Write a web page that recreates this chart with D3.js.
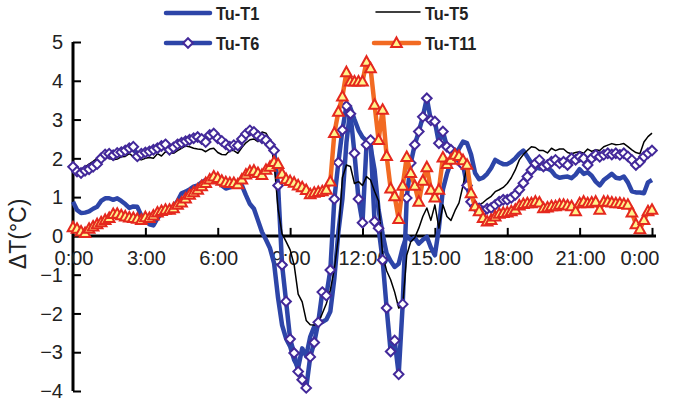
<!DOCTYPE html>
<html><head><meta charset="utf-8">
<script src="https://cdn.jsdelivr.net/npm/d3@7"></script>
<style>body{margin:0;background:#fff}svg{display:block}</style>
</head><body>
<svg id="c" width="674" height="404"></svg>
<script>
const stepMinutes = 10;
const tickHours = [0,3,6,9,12,15,18,21,24];
const tickLabels = ["0:00","3:00","6:00","9:00","12:00","15:00","18:00","21:00","0:00"];
const yTicks = [-4,-3,-2,-1,0,1,2,3,4,5];
const yLabel = "ΔT(°C)";
const seriesNames = ["Tu-T1","Tu-T5","Tu-T6","Tu-T11"];

const tuT1 = [0.88,0.67,0.59,0.6,0.63,0.7,0.75,0.9,0.97,0.97,
0.93,0.97,0.9,0.82,0.72,0.76,0.75,0.52,0.38,0.3,
0.27,0.45,0.58,0.65,0.68,0.75,0.9,1.1,1.14,1.2,
1.27,1.3,1.38,1.44,1.42,1.45,1.4,1.3,1.22,1.25,
1.3,1.35,1.3,1.05,0.82,0.7,0.4,0.1,-0.1,-0.32,
-0.7,-1.6,-2.3,-2.65,-2.85,-3.2,-3.4,-2.9,-3.1,-2.6,
-2.34,-2.27,-2.22,-2.16,-1.95,-1.1,0.1,0.95,2.4,3.3,
3.0,2.73,2.55,2.45,2.3,1.7,0.67,0.05,-0.45,-0.65,
-0.8,-0.72,-0.3,0.0,-0.1,-0.05,-0.2,-0.1,-0.02,-0.3,
-0.5,0.2,1.2,1.6,1.9,2.05,2.25,2.43,2.39,2.1,
1.62,1.46,1.5,1.6,1.75,1.96,1.9,1.85,1.85,1.91,
2.0,2.12,2.2,2.04,1.88,1.78,1.74,1.74,1.74,1.68,
1.55,1.5,1.52,1.53,1.49,1.58,1.72,1.6,1.64,1.55,
1.4,1.3,1.44,1.52,1.6,1.5,1.48,1.53,1.38,1.15,
1.12,1.12,1.1,1.38,1.44];

const tuT5 = [1.75,1.7,1.72,1.78,1.85,1.92,2.0,2.08,2.05,2.0,
1.96,1.98,2.04,2.05,2.12,2.05,1.98,1.96,2.0,2.02,
2.0,2.12,2.06,2.17,2.15,2.13,2.2,2.26,2.32,2.3,
2.26,2.24,2.23,2.17,2.24,2.26,2.15,2.1,2.09,2.2,
2.2,2.13,2.28,2.4,2.48,2.5,2.43,2.68,2.65,2.47,
1.9,0.7,0.05,-0.15,-0.36,-0.75,-1.5,-1.7,-2.18,-2.29,
-2.3,-2.25,-2.0,-1.75,-1.4,-0.85,-0.05,1.5,1.83,1.79,
1.35,1.4,1.3,1.53,1.44,1.15,0.9,-0.5,-0.9,-1.13,
-1.45,-1.86,-1.8,-0.5,-0.15,-0.05,0.2,0.5,0.72,0.4,
0.8,0.2,0.8,0.5,0.4,0.65,0.85,1.3,1.8,1.0,
0.85,0.8,0.86,0.95,1.02,1.14,1.19,1.25,1.35,1.5,
1.7,1.96,2.1,2.2,2.3,2.28,2.2,2.2,2.14,2.26,
2.2,2.24,2.24,2.15,2.12,2.15,2.17,2.13,2.24,2.18,
2.22,2.2,2.3,2.34,2.38,2.35,2.36,2.38,2.3,2.22,
2.15,2.12,2.42,2.56,2.65];

const tuT6 = [1.78,1.66,1.62,1.68,1.72,1.78,1.85,2.0,2.1,2.12,
2.08,2.14,2.16,2.2,2.26,2.3,2.05,2.12,2.15,2.18,
2.22,2.26,2.32,2.36,2.22,2.28,2.36,2.4,2.44,2.48,
2.52,2.55,2.5,2.42,2.6,2.64,2.52,2.45,2.36,2.3,
2.34,2.33,2.5,2.63,2.72,2.68,2.58,2.52,2.47,2.35,
2.2,1.3,-0.75,-1.69,-2.66,-3.02,-3.5,-3.71,-3.92,-3.12,
-2.75,-2.23,-1.45,-1.54,-0.88,0.95,1.89,2.73,3.35,3.15,
2.13,0.95,0.34,2.35,2.47,0.37,0.2,-0.62,-1.86,-2.98,
-2.7,-3.57,-1.76,0.98,1.88,2.35,2.69,3.07,3.55,2.98,
2.95,2.39,2.69,2.3,2.22,2.13,2.0,1.83,1.3,0.88,
0.76,0.71,0.63,0.7,0.72,0.8,0.88,0.93,0.93,0.98,
1.06,1.19,1.36,1.53,1.7,1.87,1.96,1.79,1.83,1.91,
1.96,1.87,1.91,1.83,2.0,1.96,2.04,2.0,1.83,2.0,
2.09,2.04,2.09,2.13,2.1,2.13,2.09,2.13,2.05,1.96,
1.83,1.91,2.04,2.13,2.2];

const tuT11 = [0.22,0.18,0.11,0.07,0.18,0.24,0.3,0.35,0.41,0.46,
0.56,0.57,0.53,0.5,0.47,0.46,0.44,0.41,0.48,0.46,
0.52,0.6,0.64,0.67,0.67,0.71,0.8,0.86,0.96,1.06,
1.12,1.19,1.28,1.36,1.45,1.53,1.49,1.42,1.38,1.36,
1.36,1.33,1.45,1.58,1.66,1.68,1.62,1.57,1.7,1.78,
1.9,1.85,1.6,1.46,1.41,1.37,1.3,1.25,1.18,1.07,
1.11,1.13,1.15,1.19,1.4,2.65,3.2,3.59,4.22,3.98,
3.98,3.98,3.98,4.49,4.32,3.38,2.47,3.25,2.06,1.22,
1.02,0.43,1.29,2.03,1.62,1.29,0.88,1.42,1.77,1.19,
0.99,1.19,2.02,1.85,1.96,2.09,2.06,1.95,1.83,1.1,
0.76,0.63,0.46,0.37,0.41,0.5,0.57,0.59,0.6,0.63,
0.67,0.78,0.82,0.84,0.84,0.88,0.86,0.71,0.73,0.76,
0.76,0.8,0.8,0.78,0.76,0.63,0.84,0.88,0.84,0.86,
0.88,0.67,0.88,0.88,0.86,0.84,0.84,0.82,0.8,0.6,
0.3,0.17,0.41,0.63,0.67];

const blue = "#2d45a8", purple = "#43299a", orange = "#f26a22", red = "#e5281e", yellow = "#fff38c";

const svg = d3.select("#c");
const x = d3.scaleLinear().domain([0,24]).range([73,652]);
const y = d3.scaleLinear().domain([-4,5]).range([391,42]);
const hourOf = i => i*stepMinutes/60;
const line = d3.line().x((d,i)=>x(hourOf(i))).y(d=>y(d));

const font = "'Liberation Sans', Arial, Helvetica, sans-serif";

// Axes
const gx = svg.append("g").attr("transform",`translate(0,${y(0)})`)
  .call(d3.axisBottom(x).tickValues(tickHours.slice(1)).tickSize(-8).tickFormat(""));
gx.select(".domain").attr("d",`M${x(0)},0H${x(24)+4}`).attr("stroke","#000").attr("stroke-width",3);
gx.selectAll(".tick line").attr("stroke","#000").attr("stroke-width",2);

const gy = svg.append("g").attr("transform",`translate(${x(0)},0)`)
  .call(d3.axisRight(y).tickValues(yTicks).tickSize(8).tickFormat(""));
gy.select(".domain").attr("d",`M0,${y(-4)}V${y(5)}`).attr("stroke","#000").attr("stroke-width",3);
gy.selectAll(".tick line").attr("stroke","#000").attr("stroke-width",2);

// tick labels
svg.append("g").selectAll("text").data(yTicks).join("text")
  .attr("x",63).attr("y",d=>y(d)).attr("dy","0.36em")
  .attr("text-anchor","end").attr("font-family",font).attr("font-size",20).attr("fill","#222")
  .text(d=> d<0 ? "\u2212"+Math.abs(d) : d);
svg.append("g").selectAll("text").data(tickHours).join("text")
  .attr("x",(d,i)=>x(d) + (i===tickHours.length-1 ? -12 : 1)).attr("y",y(0)+29)
  .attr("text-anchor","middle").attr("font-family",font).attr("font-size",20).attr("fill","#222")
  .text((d,i)=>tickLabels[i]);
svg.append("text").attr("transform",`translate(26,${y(0)-2}) rotate(-90)`)
  .attr("text-anchor","middle").attr("font-family",font).attr("font-size",23).attr("fill","#222")
  .text(yLabel);

const diamond = "M0,-4.8L4.8,0L0,4.8L-4.8,0Z";
const tri = "M0,-5.6L5.3,3.9L-5.3,3.9Z";

// series
svg.append("path").datum(tuT1).attr("d",line).attr("fill","none").attr("stroke",blue).attr("stroke-width",4.5).attr("stroke-linejoin","round");
svg.append("path").datum(tuT6).attr("d",line).attr("fill","none").attr("stroke",blue).attr("stroke-width",4.5).attr("stroke-linejoin","round");
svg.append("path").datum(tuT5).attr("d",line).attr("fill","none").attr("stroke","#000").attr("stroke-width",1.5).attr("stroke-linejoin","round");
svg.append("g").selectAll("path").data(tuT6).join("path")
  .attr("transform",(d,i)=>`translate(${x(hourOf(i))},${y(d)})`).attr("d",diamond)
  .attr("fill","#fff").attr("stroke",purple).attr("stroke-width",2);
svg.append("path").datum(tuT11).attr("d",line).attr("fill","none").attr("stroke",orange).attr("stroke-width",4.5).attr("stroke-linejoin","round");
svg.append("g").selectAll("path").data(tuT11).join("path")
  .attr("transform",(d,i)=>`translate(${x(hourOf(i))},${y(d)})`).attr("d",tri)
  .attr("fill",yellow).attr("stroke",red).attr("stroke-width",2);

// legend
const leg = [
  {name:seriesNames[0], x1:166, x2:210, y:13, color:blue, w:4.5, marker:null, tx:216},
  {name:seriesNames[1], x1:376, x2:420, y:12, color:"#000", w:1.5, marker:null, tx:425},
  {name:seriesNames[2], x1:166, x2:210, y:43, color:blue, w:4.5, marker:"d", tx:216},
  {name:seriesNames[3], x1:374, x2:419, y:43, color:orange, w:4.5, marker:"t", tx:425}
];
const lg = svg.append("g");
leg.forEach(l=>{
  lg.append("line").attr("x1",l.x1).attr("x2",l.x2).attr("y1",l.y).attr("y2",l.y)
    .attr("stroke",l.color).attr("stroke-width",l.w).attr("stroke-linecap","round");
  const mx=(l.x1+l.x2)/2;
  if(l.marker==="d") lg.append("path").attr("d",diamond).attr("transform",`translate(${mx},${l.y})`).attr("fill","#fff").attr("stroke",purple).attr("stroke-width",2);
  if(l.marker==="t") lg.append("path").attr("d",tri).attr("transform",`translate(${mx},${l.y})`).attr("fill",yellow).attr("stroke",red).attr("stroke-width",2);
  lg.append("text").attr("x",l.tx).attr("y",(l.marker||l.w>2?l.y:l.y+1)+7).attr("font-family",font).attr("font-weight","bold")
    .attr("font-size",19).attr("fill","#222").attr("transform",`translate(${l.tx},0) scale(0.86,1) translate(${-l.tx},0)`).text(l.name);
});
</script>
</body></html>
